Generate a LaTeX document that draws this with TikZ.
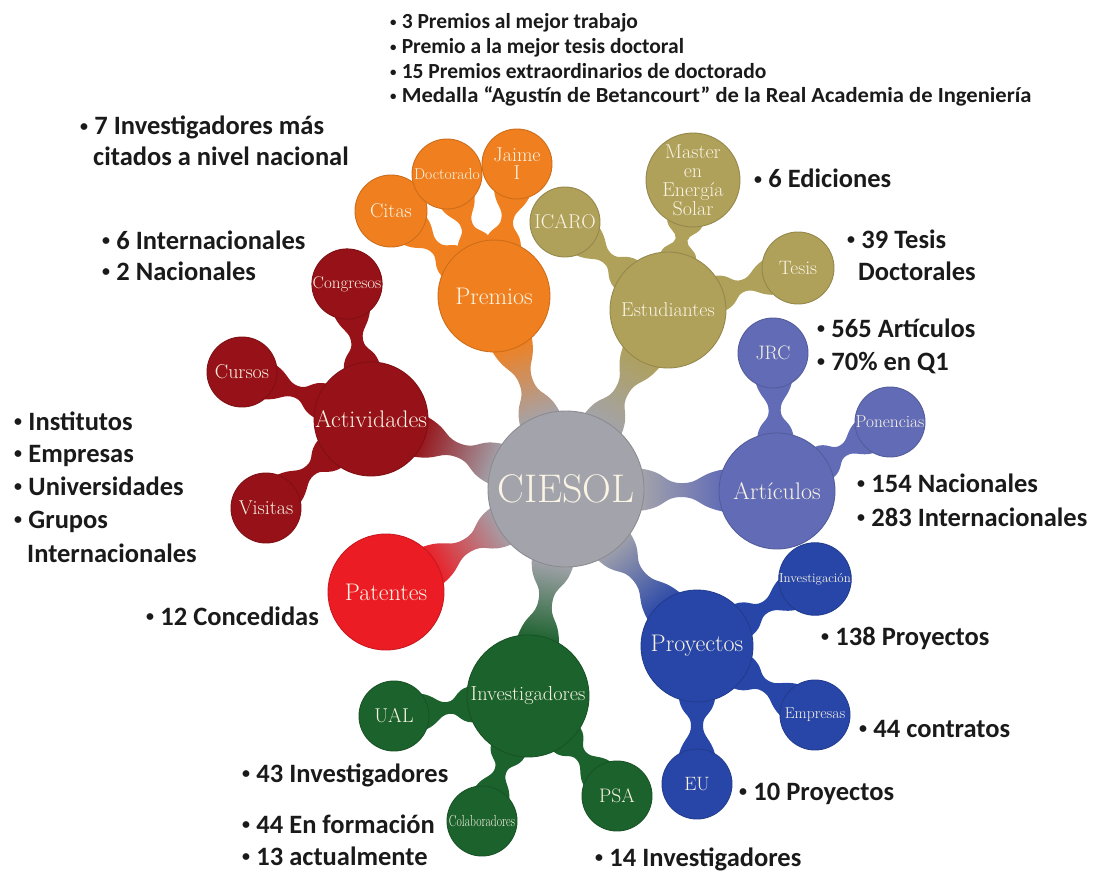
\documentclass[tikz,border=0pt]{standalone}
\usepackage{fontspec}
\newfontfamily\carl{Carlito}
\usetikzlibrary{calc,backgrounds}
\definecolor{grayC}{RGB}{163,163,171}
\definecolor{orangeC}{RGB}{240,128,31}
\definecolor{oliveC}{RGB}{175,160,90}
\definecolor{periC}{RGB}{98,108,182}
\definecolor{blueC}{RGB}{40,70,168}
\definecolor{greenC}{RGB}{28,98,45}
\definecolor{redC}{RGB}{236,28,36}
\definecolor{dredC}{RGB}{150,18,24}
\definecolor{creamC}{RGB}{250,244,228}
\definecolor{txtC}{RGB}{26,26,26}
\newcommand\bul{\raisebox{0.12em}{\scalebox{0.6}{\textbullet}}\hspace{0.24em}}
% neck between two circles: A, B, rA, rB, half width, path options
\newcommand\neck[6]{%
  \pgfmathanglebetweenpoints{\pgfpointanchor{#1}{center}}{\pgfpointanchor{#2}{center}}%
  \edef\nkphi{\pgfmathresult}%
  \pgfmathsetmacro\nkshang{\nkphi-90}%
  \path[#6] let \p1=(#1.center), \p2=(#2.center),
    \n1={veclen(\x2-\x1,\y2-\y1)-#3pt-#4pt},
    \n2={asin(min(0.8,3*#5/#3))},
    \n3={asin(min(0.8,3*#5/#4))}
  in
   ($(\p1)+({\nkphi+\n2}:#3pt)$)
   .. controls ($(\p1)+({\nkphi+\n2}:#3pt)+({\nkphi-\n2/2}:{0.35*\n1})$)
   and ($(\p1)+(\nkphi:{#3pt+0.5*\n1})+({\nkphi+90}:#5pt)+({\nkphi+180}:{0.25*\n1})$)
   .. ($(\p1)+(\nkphi:{#3pt+0.5*\n1})+({\nkphi+90}:#5pt)$)
   .. controls ($(\p1)+(\nkphi:{#3pt+0.5*\n1})+({\nkphi+90}:#5pt)+(\nkphi:{0.25*\n1})$)
   and ($(\p2)+({\nkphi+180-\n3}:#4pt)+({\nkphi+180+\n3/2}:{0.35*\n1})$)
   .. ($(\p2)+({\nkphi+180-\n3}:#4pt)$)
   -- ($(\p2)+({\nkphi+180+\n3}:#4pt)$)
   .. controls ($(\p2)+({\nkphi+180+\n3}:#4pt)+({\nkphi+180-\n3/2}:{0.35*\n1})$)
   and ($(\p1)+(\nkphi:{#3pt+0.5*\n1})+({\nkphi-90}:#5pt)+(\nkphi:{0.25*\n1})$)
   .. ($(\p1)+(\nkphi:{#3pt+0.5*\n1})+({\nkphi-90}:#5pt)$)
   .. controls ($(\p1)+(\nkphi:{#3pt+0.5*\n1})+({\nkphi-90}:#5pt)+({\nkphi+180}:{0.25*\n1})$)
   and ($(\p1)+({\nkphi-\n2}:#3pt)+({\nkphi+\n2/2}:{0.35*\n1})$)
   .. ($(\p1)+({\nkphi-\n2}:#3pt)$) -- cycle;
}
\tikzset{
  bub/.style={circle, inner sep=0pt, text=creamC, align=center, line width=0.9pt},
  dia/.style={minimum size=#1pt},
  fs/.style={font=\fontsize{#1}{#1}\selectfont},
  ob/.style={bub, fill=orangeC, draw=orangeC!85!black},
  lb/.style={bub, fill=oliveC, draw=oliveC!85!black},
  pb/.style={bub, fill=periC, draw=periC!85!black},
  bb/.style={bub, fill=blueC, draw=blueC!85!black},
  gb/.style={bub, fill=greenC, draw=greenC!85!black},
  rb/.style={bub, fill=redC, draw=redC!85!black},
  db/.style={bub, fill=dredC, draw=dredC!85!black},
  txt/.style={anchor=base west, inner sep=0pt, text=txtC,
    font=\carl\bfseries\fontsize{26.5}{30}\selectfont},
  toptxt/.style={anchor=base west, inner sep=0pt, text=txtC,
    font=\carl\bfseries\fontsize{21.5}{25}\selectfont},
}
\begin{document}
\begin{tikzpicture}[x=1pt,y=-1pt]
\useasboundingbox (0,0) rectangle (1093,872);

% ---------- circles ----------
\node[bub, dia=156, fill=grayC, draw=grayC!85!black, fs=40] (ciesol) at (566,489) {CIESOL};

\node[ob, dia=112, fs=24] (premios) at (494,296) {Premios};
\node[ob, dia=72, fs=20] (citas) at (391,211) {Citas};
\node[ob, dia=70, fs=15.7] (doctorado) at (447,174) {Doctorado};
\node[ob, dia=70, font=\fontsize{20}{18}\selectfont] (jaime) at (517,164) {Jaime\\I};

\node[lb, dia=116, fs=20] (estud) at (668,310) {Estudiantes};
\node[lb, dia=70, fs=20] (icaro) at (565,222) {ICARO};
\node[lb, dia=94, font=\fontsize{20}{19}\selectfont] (master) at (693,180) {Master\\en\\Energía\\Solar};
\node[lb, dia=72, fs=19.4] (tesis) at (798,268) {Tesis};

\node[db, dia=114, fs=24] (activ) at (371,419) {Actividades};
\node[db, dia=70, fs=17] (congresos) at (347,284) {Congresos};
\node[db, dia=70, fs=20] (cursos) at (242,372) {Cursos};
\node[db, dia=70, fs=20] (visitas) at (266,508) {Visitas};

\node[rb, dia=116, fs=24] (patentes) at (386,592) {Patentes};

\node[pb, dia=116, fs=24] (articulos) at (777,491) {Artículos};
\node[pb, dia=70, fs=19.5] (jrc) at (773,353) {JRC};
\node[pb, dia=70, fs=17.3] (ponencias) at (890,422) {Ponencias};

\node[bb, dia=112, fs=24] (proyectos) at (697,646) {Proyectos};
\node[bb, dia=70, fs=12.9] (investigacion) at (815,579) {Investigación};
\node[bb, dia=70, fs=15.7] (empresas) at (815,715) {Empresas};
\node[bb, dia=70, fs=19.3] (eu) at (697,784) {EU};

\node[gb, dia=122, fs=20.3] (invest) at (528,696) {Investigadores};
\node[gb, dia=70, fs=20] (ual) at (394,716) {UAL};
\node[gb, dia=70, fs=16] (colab) at (482,821) {\scalebox{0.72}[1]{Colaboradores}};
\node[gb, dia=70, fs=19.5] (psa) at (617,796) {PSA};

% ---------- necks (behind the circles) ----------
\begin{scope}[on background layer]
\fill[white] (0,0) rectangle (1093,872);
\neck{ciesol}{premios}{78}{56}{7}{top color=orangeC, bottom color=grayC, shading angle=\nkshang}
\neck{ciesol}{estud}{78}{58}{7}{top color=oliveC, bottom color=grayC, shading angle=\nkshang}
\neck{ciesol}{activ}{78}{57}{7}{top color=dredC, bottom color=grayC, shading angle=\nkshang}
\neck{ciesol}{patentes}{78}{58}{7}{top color=redC, bottom color=grayC, shading angle=\nkshang}
\neck{ciesol}{articulos}{78}{58}{7}{top color=periC, bottom color=grayC, shading angle=\nkshang}
\neck{ciesol}{proyectos}{78}{56}{7}{top color=blueC, bottom color=grayC, shading angle=\nkshang}
\neck{ciesol}{invest}{78}{61}{7}{top color=greenC, bottom color=grayC, shading angle=\nkshang}

\neck{premios}{citas}{56}{36}{6}{fill=orangeC}
\neck{premios}{doctorado}{56}{35}{6}{fill=orangeC}
\neck{premios}{jaime}{56}{35}{6}{fill=orangeC}
\neck{estud}{icaro}{58}{35}{6}{fill=oliveC}
\neck{estud}{master}{58}{47}{6}{fill=oliveC}
\neck{estud}{tesis}{58}{36}{6}{fill=oliveC}
\neck{activ}{congresos}{57}{35}{6}{fill=dredC}
\neck{activ}{cursos}{57}{35}{6}{fill=dredC}
\neck{activ}{visitas}{57}{35}{6}{fill=dredC}
\neck{articulos}{jrc}{58}{35}{6}{fill=periC}
\neck{articulos}{ponencias}{58}{35}{6}{fill=periC}
\neck{proyectos}{investigacion}{56}{35}{6}{fill=blueC}
\neck{proyectos}{empresas}{56}{35}{6}{fill=blueC}
\neck{proyectos}{eu}{56}{35}{6}{fill=blueC}
\neck{invest}{ual}{61}{35}{6}{fill=greenC}
\neck{invest}{colab}{61}{35}{6}{fill=greenC}
\neck{invest}{psa}{61}{35}{6}{fill=greenC}
\end{scope}

% ---------- texts ----------
\node[toptxt] (p1) at (390,29) {\bul 3 Premios al mejor trabajo};
\node[toptxt] (p2) at (390,54) {\bul Premio a la mejor tesis doctoral};
\node[toptxt] (p3) at (390,79) {\bul 15 Premios extraordinarios de doctorado};
\node[toptxt] (p4) at (390,103) {\bul \scalebox{1.05}[1]{Medalla “Agustín de Betancourt” de la Real Academia de Ingeniería}};

\node[txt] (t7a) at (80,135) {\bul 7 Investigadores más};
\node[txt] (t7b) at (93,166) {citados a nivel nacional};
\node[txt] (t6e) at (754,188) {\bul 6 Ediciones};
\node[txt] (t39a) at (847,248) {\bul 39 Tesis};
\node[txt] (t39b) at (858,280) {Doctorales};
\node[txt] (t6i) at (102,249) {\bul 6 Internacionales};
\node[txt] (t2n) at (102,280) {\bul 2 Nacionales};
\node[txt] (t565) at (817,337) {\bul 565 Artículos};
\node[txt] (t70) at (817,370) {\bul 70\% en Q1};
\node[txt] (tins) at (14,430) {\bul Institutos};
\node[txt] (temp) at (14,462) {\bul Empresas};
\node[txt] (tuni) at (14,495) {\bul Universidades};
\node[txt] (tgru) at (14,528) {\bul Grupos};
\node[txt] (tint) at (27,562) {Internacionales};
\node[txt] (t154) at (857,492) {\bul 154 Nacionales};
\node[txt] (t283) at (857,526) {\bul 283 Internacionales};
\node[txt] (t12) at (146,625) {\bul 12 Concedidas};
\node[txt] (t138) at (821,645) {\bul 138 Proyectos};
\node[txt] (t44c) at (859,737) {\bul 44 contratos};
\node[txt] (t10) at (739,800) {\bul 10 Proyectos};
\node[txt] (t43) at (242,782) {\bul 43 Investigadores};
\node[txt] (t44f) at (242,833) {\bul 44 En formación};
\node[txt] (t13) at (242,865) {\bul 13 actualmente};
\node[txt] (t14) at (595,866) {\bul 14 Investigadores};
\end{tikzpicture}
\end{document}
